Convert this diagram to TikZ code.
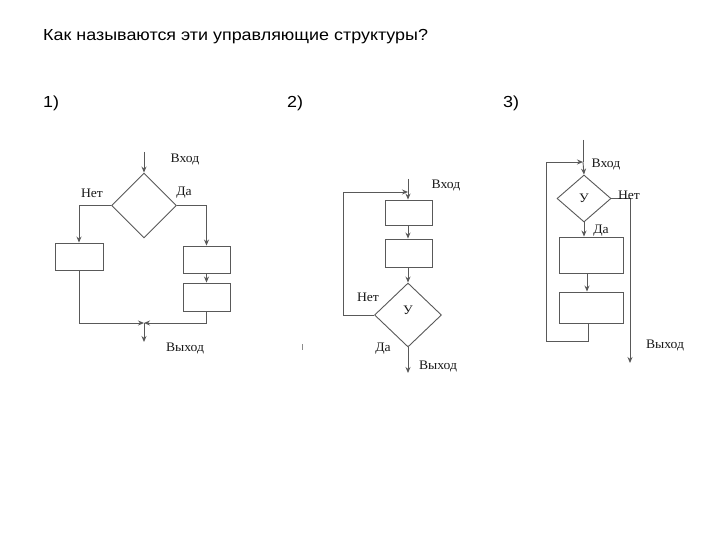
\documentclass[tikz,border=0pt]{standalone}
\usepackage{fontspec}
\setmainfont{Liberation Sans}
\newfontfamily\ttlf[FakeStretch=1.12]{Liberation Sans}
\newfontfamily\serf[FakeStretch=1.05]{Liberation Serif}
\usetikzlibrary{shapes.geometric,arrows.meta}
\tikzset{
  ln/.style={draw=black!65,line width=0.9pt},
  arr/.style={ln,-{Stealth[length=6pt,width=5pt]}},
  blk/.style={ln,rectangle,inner sep=0pt,fill=white},
  dia/.style={ln,diamond,inner sep=0pt,fill=white},
  lbl/.style={font=\serf\fontsize{13}{15}\selectfont,inner sep=0pt,text=black!90},
  ttl/.style={font=\ttlf\fontsize{16}{19}\selectfont,inner sep=0pt,anchor=west}
}
\begin{document}
\begin{tikzpicture}[x=1pt,y=-1pt]
\useasboundingbox[fill=white] (0,0) rectangle (720,540);
\node[ttl] (title) at (43,37) {Как называются эти управляющие структуры?};
\node[ttl] (n1) at (43,103) {1)};
\node[ttl] (n2) at (287,103) {2)};
\node[ttl] (n3) at (503,103) {3)};
% ---------- diagram 1
\node[dia,minimum width=65pt,minimum height=65pt] (d1) at (144,205.5) {};
\node[blk,minimum width=48pt,minimum height=27pt] (b1L) at (79,256.5) {};
\node[blk,minimum width=47pt,minimum height=27pt] (b1R1) at (206.5,259.5) {};
\node[blk,minimum width=47pt,minimum height=28pt] (b1R2) at (206.5,297) {};
\coordinate (in1) at (144,152);
\coordinate (j1) at (144,323);
\coordinate (out1) at (144,342);
\draw[arr] (in1) -- (d1.north);
\draw[arr] (d1.west) -| (b1L.north);
\draw[arr] (d1.east) -| (b1R1.north);
\draw[arr] (b1R1.south) -- (b1R2.north);
\draw[arr] (b1L.south) |- (j1);
\draw[arr] (b1R2.south) |- (j1);
\draw[arr] (j1) -- (out1);
\node[lbl] (vx1) at (185,160) {Вход};
\node[lbl] (no1) at (92,193) {Нет};
\node[lbl] (da1) at (184,193) {Да};
\node[lbl] (vy1) at (185,348) {Выход};
% ---------- diagram 2
\node[blk,minimum width=47pt,minimum height=25pt] (b2a) at (408.5,212.5) {};
\node[blk,minimum width=47pt,minimum height=28pt] (b2b) at (408.5,253) {};
\node[dia,minimum width=67pt,minimum height=64pt] (d2) at (408,315) {};
\coordinate (in2) at (408,179);
\coordinate (m2) at (408,192);
\coordinate (c2) at (343,315);
\coordinate (out2) at (408,373);
\draw[ln] (in2) -- (m2);
\draw[arr] (m2) -- (m2 |- b2a.north);
\draw[arr] (b2a.south -| m2) -- (m2 |- b2b.north);
\draw[arr] (b2b.south -| m2) -- (d2.north);
\draw[arr] (d2.west) -- (c2) |- (m2);
\draw[arr] (d2.south) -- (out2);
\node[lbl] at (408,310) (y2) {У};
\node[lbl] (vx2) at (446,186) {Вход};
\node[lbl] (no2) at (368,297) {Нет};
\node[lbl] (da2) at (383,349) {Да};
\node[lbl] (vy2) at (438,366) {Выход};
\draw[black!45,line width=0.6pt] (302,344) -- (302,350);
% ---------- diagram 3
\node[dia,minimum width=54pt,minimum height=47pt] (d3) at (584,198.5) {};
\node[blk,minimum width=64pt,minimum height=36pt] (b3a) at (591,255) {};
\node[blk,minimum width=64pt,minimum height=31pt] (b3b) at (591,307.5) {};
\coordinate (in3) at (583,140);
\coordinate (m3) at (583,162);
\coordinate (c3) at (546,341);
\coordinate (out3) at (630,363);
\draw[ln] (in3) -- (m3);
\draw[arr] (m3) -- (d3.north);
\draw[arr] (d3.south) -- (d3.south |- b3a.north);
\draw[arr] ([xshift=-4pt]b3a.south) -- ([xshift=-4pt]b3b.north);
\draw[arr] ([xshift=-3pt]b3b.south) |- (c3) |- (m3);
\draw[arr] (d3.east) -| (out3);
\node[lbl] (y3) at (584,198) {У};
\node[lbl] (vx3) at (606,165) {Вход};
\node[lbl] (no3) at (629,195) {Нет};
\node[lbl] (da3) at (601,231) {Да};
\node[lbl] (vy3) at (665,345) {Выход};
\end{tikzpicture}
\end{document}
